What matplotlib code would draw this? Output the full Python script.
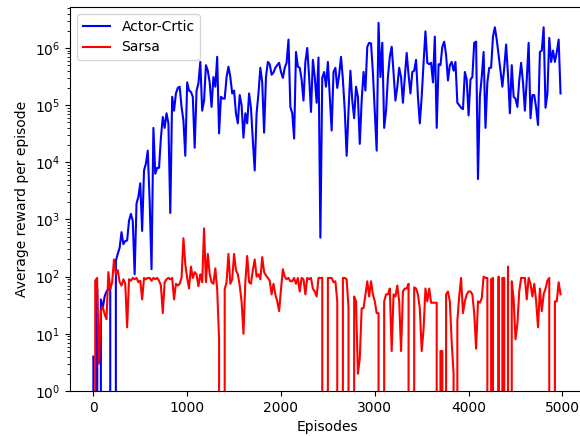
import numpy as np
import matplotlib
matplotlib.use("Agg")
import matplotlib.pyplot as plt

# one point every 20 episodes
episodes = np.arange(0, 5000, 20)

actor_critic = [
    4, 0, 60, 0, 40, 28, 45, 55, 60, 70,
    0, 0, 190, 250, 320, 600, 370, 420, 430, 950,
    1250, 950, 110, 1900, 2500, 4300, 630, 7200, 9500, 16000,
    2100, 135, 40000, 6300, 8000, 8000, 27000, 62000, 40000, 72000,
    48000, 1300, 140000, 80000, 160000, 200000, 210000, 93000, 54000, 13000,
    250000, 180000, 170000, 140000, 18000, 180000, 240000, 570000, 80000, 120000,
    500000, 400000, 250000, 93000, 310000, 210000, 700000, 32000, 140000, 130000,
    130000, 310000, 470000, 310000, 160000, 180000, 72000, 48000, 150000, 100000,
    27000, 72000, 48000, 160000, 90000, 24000, 7200, 72000, 160000, 450000,
    250000, 33000, 310000, 570000, 520000, 340000, 370000, 450000, 500000, 550000,
    380000, 300000, 450000, 550000, 1400000, 93000, 72000, 26000, 850000, 470000,
    450000, 280000, 120000, 570000, 1000000, 310000, 76000, 620000, 310000, 110000,
    680000, 480, 300000, 380000, 210000, 570000, 140000, 36000, 380000, 450000,
    200000, 340000, 700000, 280000, 80000, 13000, 80000, 400000, 120000, 59000,
    210000, 140000, 21000, 120000, 380000, 180000, 1050000, 1230000, 1200000, 370000,
    80000, 16000, 2750000, 310000, 1230000, 40000, 80000, 310000, 700000, 1050000,
    370000, 120000, 210000, 450000, 310000, 110000, 310000, 820000, 340000, 160000,
    380000, 400000, 620000, 140000, 48000, 140000, 550000, 1950000, 550000, 520000,
    550000, 250000, 1580000, 40000, 520000, 500000, 1050000, 1290000, 760000, 270000,
    500000, 570000, 400000, 570000, 110000, 100000, 90000, 85000, 380000, 280000,
    66000, 280000, 310000, 1230000, 1290000, 5100, 140000, 310000, 850000, 40000,
    250000, 450000, 450000, 1580000, 2300000, 1400000, 760000, 400000, 210000, 450000,
    1150000, 340000, 72000, 500000, 140000, 130000, 93000, 270000, 550000, 250000,
    80000, 280000, 1230000, 59000, 150000, 150000, 90000, 45000, 850000, 900000,
    2300000, 90000, 160000, 1500000, 570000, 900000, 570000, 850000, 1400000, 160000,
]

sarsa = [
    0, 85, 95, 3, 25, 30, 22, 18, 120, 60,
    80, 200, 110, 130, 80, 70, 90, 75, 13, 90,
    85, 95, 90, 95, 80, 85, 40, 95, 90, 95,
    95, 85, 95, 90, 95, 85, 70, 23, 80, 90,
    95, 90, 95, 40, 75, 70, 75, 95, 470, 165,
    95, 62, 150, 95, 120, 110, 68, 110, 80, 700,
    80, 250, 110, 80, 75, 140, 60, 8, 0, 0,
    60, 80, 250, 75, 90, 250, 130, 110, 70, 37,
    10, 80, 230, 80, 75, 130, 200, 100, 110, 90,
    220, 120, 105, 95, 85, 49, 75, 49, 37, 25,
    60, 135, 100, 90, 95, 83, 83, 95, 75, 95,
    55, 95, 90, 49, 95, 90, 95, 62, 55, 45,
    95, 95, 95, 0, 0, 95, 95, 95, 80, 83,
    37, 0, 0, 95, 95, 90, 28, 0, 0, 45,
    37, 2, 3.7, 28, 28, 49, 83, 45, 83, 49,
    37, 23, 23, 0, 0, 37, 49, 49, 62, 5,
    49, 45, 70, 37, 5, 55, 62, 62, 75, 0,
    0, 65, 62, 49, 28, 5, 12, 62, 37, 62,
    35, 35, 35, 35, 0, 5, 5, 0, 49, 55,
    37, 7, 2, 0, 17, 45, 95, 23, 37, 49,
    55, 55, 49, 23, 5.5, 37, 35, 42, 100, 95,
    95, 0, 90, 95, 0, 0, 100, 0, 95, 95,
    0, 150, 0, 83, 40, 8, 15, 55, 95, 95,
    95, 40, 95, 75, 45, 75, 37, 13, 62, 25,
    49, 62, 85, 95, 0, 0, 37, 37, 80, 49,
]

fig = plt.figure(figsize=(5.8, 4.36), dpi=100)
ax = fig.add_axes([0.1207, 0.1032, 0.886, 0.8807])

ax.plot(episodes, actor_critic, color="blue", label="Actor-Crtic")
ax.plot(episodes, sarsa, color="red", label="Sarsa")
ax.set_yscale("log")
ax.set_ylim(1, 5.2e6)
ax.set_xlim(-249, 5229)
ax.set_xticks([0, 1000, 2000, 3000, 4000, 5000])

ax.set_xlabel("Episodes")
ax.set_ylabel("Average reward per episode")
ax.legend(loc="upper left")

fig.savefig("out.png", dpi=100)
